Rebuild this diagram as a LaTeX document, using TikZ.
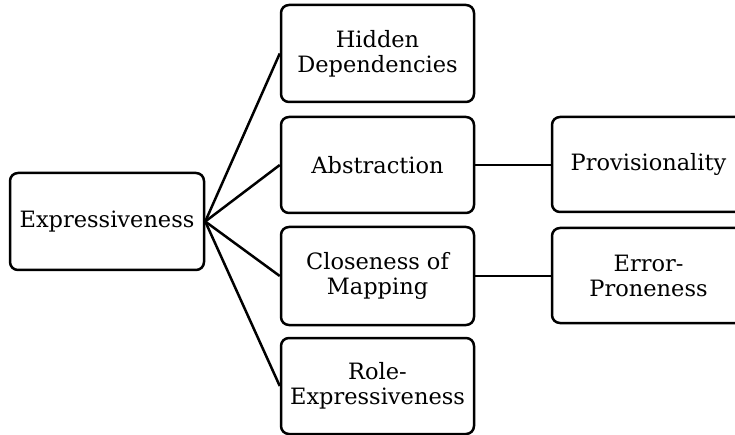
\documentclass[tikz,border=0pt]{standalone}
\usepackage{fontspec}
\setmainfont{DejaVu Serif}
\begin{document}
\begin{tikzpicture}[x=1pt,y=-1pt,
  box/.style={draw=black, line width=2.5pt, rounded corners=8pt, fill=white,
    minimum width=193pt, align=center, inner sep=0pt,
    font=\fontsize{22.5}{25}\selectfont},
  link/.style={draw=black, line width=2.5pt}]
\useasboundingbox (0,0) rectangle (735,435);
\node[box, minimum width=194pt, minimum height=97pt] (E) at (107,221.5) {Expressiveness};
\node[box, minimum height=97pt] (H) at (377.5,53.5) {Hidden\\Dependencies};
\node[box, minimum height=96pt] (A) at (377.5,165) {Abstraction};
\node[box, minimum height=98pt] (C) at (377.5,276) {Closeness of\\Mapping};
\node[box, minimum height=96pt] (R) at (377.5,386) {Role-\\Expressiveness};
\node[box, minimum height=95pt] (P) at (648.5,164.5) {Provisionality};
\node[box, minimum height=95pt] (X) at (648.5,275.5) {Error-\\Proneness};
\draw[link] (E.east) -- (H.west);
\draw[link] (E.east) -- (A.west);
\draw[link] (E.east) -- (C.west);
\draw[link] (E.east) -- (R.west);
\draw[link] (A.east) -- (A.east -| P.west);
\draw[link] (C.east) -- (C.east -| X.west);
\end{tikzpicture}
\end{document}
